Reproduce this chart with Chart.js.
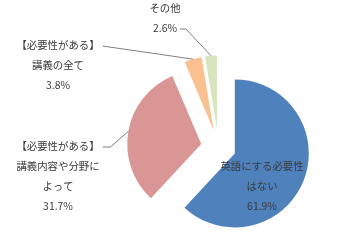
<!DOCTYPE html>
<html>
<head>
<meta charset="utf-8">
<script src="https://cdn.jsdelivr.net/npm/chart.js@4"></script>
<style>
  html, body { margin: 0; padding: 0; background: #fff; }
  #wrap { width: 360px; height: 240px; }
</style>
</head>
<body>
<div id="wrap"><canvas id="myChart"></canvas></div>
<script>
// data
var categories = [
  ['英語にする必要性', 'はない'],
  ['【必要性がある】', '講義内容や分野に', 'よって'],
  ['【必要性がある】', '講義の全て'],
  ['その他']
];
var values = [61.9, 31.7, 3.8, 2.6];
var colors = ['#4F81BD', '#D99694', '#FAC090', '#D7E4BD'];

// where each label block sits (centre x, first line y) and if it has a leader line
var labelPos = [
  {x: 262, y: 166, leader: false},
  {x: 58, y: 146, leader: true, elbow: 8},
  {x: 58, y: 45, leader: true, elbow: 0},
  {x: 165, y: 8, leader: true, elbow: 6, fromLast: true}
];
var explode = 17.5;

// chart.js's own offset also grows the radius of some slices, so shift them by hand
class ExplodedPie extends Chart.PieController {
  draw() {
    var ctx = this.chart.ctx;
    var area = this.chart.chartArea;
    this._cachedMeta.data.forEach(function(arc) {
      var mid = (arc.startAngle + arc.endAngle) / 2;
      ctx.save();
      ctx.translate(Math.cos(mid) * explode, Math.sin(mid) * explode);
      arc.draw(ctx, area);
      ctx.restore();
    });
  }
}
ExplodedPie.id = 'explodedPie';
Chart.register(ExplodedPie);

var pieLabels = {
  id: 'pieLabels',
  afterDraw: function(chart) {
    var ctx = chart.ctx;
    var arcs = chart.getDatasetMeta(0).data;
    ctx.save();
    ctx.font = '10.4px "Noto Sans CJK JP"';
    ctx.textAlign = 'center';
    ctx.textBaseline = 'middle';
    arcs.forEach(function(arc, i) {
      var pos = labelPos[i];
      var lines = categories[i].concat([values[i].toFixed(1) + '%']);
      ctx.fillStyle = '#3A3A3A';
      lines.forEach(function(t, k) {
        ctx.fillText(t, pos.x, pos.y + k * 20);
      });
      if (!pos.leader) return;
      var k = pos.fromLast ? lines.length - 1 : 0;
      var w = ctx.measureText(lines[k]).width;
      var sx = pos.x + w / 2 + 3, sy = pos.y + k * 20 + 1;
      var p = arc.getProps(['x', 'y', 'startAngle', 'endAngle', 'outerRadius'], true);
      var a = (p.startAngle + p.endAngle) / 2;
      var r = p.outerRadius + explode;
      var ex = p.x + Math.cos(a) * r;
      var ey = p.y + Math.sin(a) * r;
      ctx.strokeStyle = '#7F7F7F';
      ctx.lineWidth = 1;
      ctx.beginPath();
      ctx.moveTo(sx, sy);
      ctx.lineTo(sx + pos.elbow, sy);
      ctx.lineTo(ex, ey);
      ctx.stroke();
    });
    ctx.restore();
  }
};

var ctx = document.getElementById('myChart').getContext('2d');
var myChart = new Chart(ctx, {
  type: 'explodedPie',
  data: {
    labels: categories,
    datasets: [{
      data: values,
      backgroundColor: colors,
      borderWidth: 0,
      radius: 74
    }]
  },
  options: {
    responsive: true,
    maintainAspectRatio: false,
    animation: false,
    layout: {
      padding: {left: 135, right: 58, top: 64, bottom: 10}
    },
    plugins: {
      legend: {display: false},
      tooltip: {enabled: false}
    }
  },
  plugins: [pieLabels]
});
</script>
</body>
</html>
